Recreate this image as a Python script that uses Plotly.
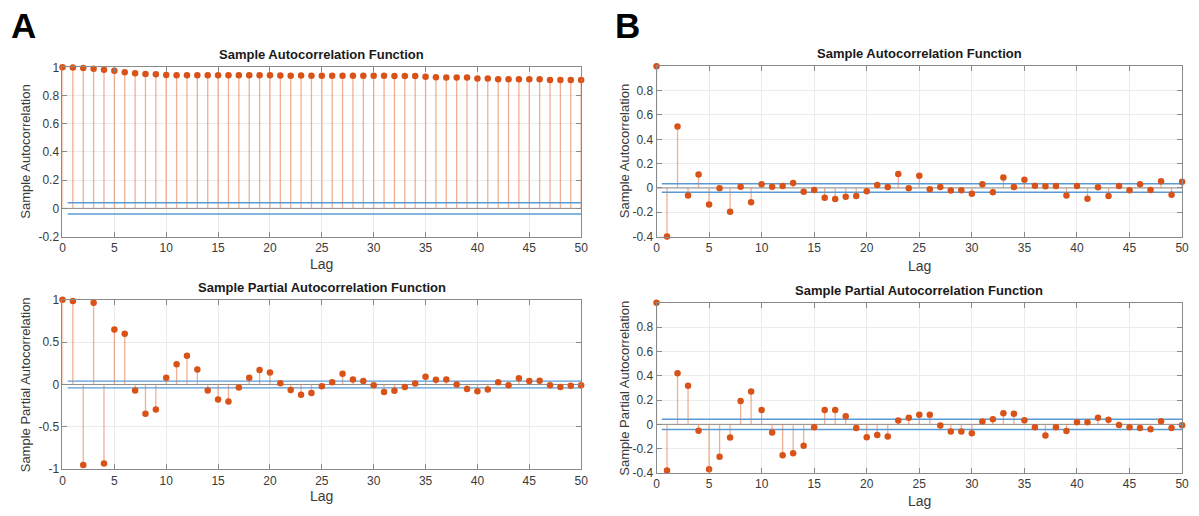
import plotly.graph_objects as go

lags = list(range(51))

acf_A = [1.0, 0.999, 0.995, 0.99, 0.982, 0.975, 0.965, 0.958, 0.953, 0.95,
         0.945, 0.944, 0.944, 0.943, 0.944, 0.944, 0.944, 0.944, 0.944, 0.944,
         0.944, 0.942, 0.941, 0.942, 0.94, 0.94, 0.94, 0.94, 0.94, 0.94,
         0.94, 0.94, 0.938, 0.938, 0.938, 0.933, 0.93, 0.927, 0.927, 0.927,
         0.92, 0.92, 0.916, 0.916, 0.916, 0.916, 0.916, 0.91, 0.91, 0.91, 0.91]

pacf_A = [1.0, 0.985, -0.95, 0.965, -0.935, 0.65, 0.6, -0.07, -0.346, -0.296,
          0.08, 0.24, 0.34, 0.177, -0.07, -0.177, -0.2, -0.035, 0.08, 0.17,
          0.14, 0.015, -0.065, -0.12, -0.1, -0.02, 0.025, 0.127, 0.06, 0.04,
          -0.01, -0.09, -0.075, -0.03, 0.01, 0.09, 0.055, 0.06, 0.0, -0.055,
          -0.08, -0.06, 0.027, -0.008, 0.073, 0.04, 0.045, -0.01, -0.03, -0.015, -0.01]

acf_B = [1.0, -0.4, 0.506, -0.062, 0.11, -0.137, -0.003, -0.195, 0.01, -0.118,
         0.03, 0.01, 0.016, 0.04, -0.032, -0.016, -0.08, -0.09, -0.072, -0.067,
         -0.027, 0.024, 0.008, 0.115, -0.003, 0.1, -0.01, 0.008, -0.02, -0.019,
         -0.048, 0.03, -0.035, 0.086, 0.008, 0.067, 0.019, 0.013, 0.016, -0.062,
         0.016, -0.088, 0.005, -0.067, 0.016, -0.019, 0.03, -0.016, 0.056, -0.056, 0.05]

pacf_B = [1.0, -0.38, 0.42, 0.318, -0.053, -0.37, -0.266, -0.108, 0.192, 0.271,
          0.118, -0.066, -0.253, -0.237, -0.176, -0.024, 0.118, 0.118, 0.066, -0.029,
          -0.105, -0.087, -0.1, 0.032, 0.055, 0.079, 0.079, -0.01, -0.058, -0.058,
          -0.074, 0.024, 0.042, 0.092, 0.087, 0.034, -0.024, -0.092, -0.024, -0.055,
          0.018, 0.018, 0.055, 0.037, -0.005, -0.024, -0.029, -0.04, 0.026, -0.029, -0.008]

bound_A_top = 0.04
bound_A_bot = 0.04
bound_B_top = 0.035
bound_B_bot = 0.042

titles = ["Sample Autocorrelation Function", "Sample Partial Autocorrelation Function"]
ylabels = ["Sample Autocorrelation", "Sample Partial Autocorrelation"]

W, H = 1199, 516

def px_x(p):
    return p / W

def px_y(p):
    return 1 - p / H

panels = [
    dict(d=acf_A, b=bound_A_top, x=(60, 583), y=(62, 236), yr=[-0.2, 1.0],
         tv=[-0.2, 0, 0.2, 0.4, 0.6, 0.8, 1.0], tt=["-0.2", "0", "0.2", "0.4", "0.6", "0.8", "1"],
         title=titles[0], ylab=ylabels[0], lagy=264, ylabx=23),
    dict(d=pacf_A, b=bound_A_bot, x=(60, 583), y=(301, 475), yr=[-1.0, 1.0],
         tv=[-1, -0.5, 0, 0.5, 1], tt=["-1", "-0.5", "0", "0.5", "1"],
         title=titles[1], ylab=ylabels[1], lagy=503, ylabx=23),
    dict(d=acf_B, b=bound_B_top, x=(659, 1189), y=(61, 236), yr=[-0.4, 1.0],
         tv=[-0.4, -0.2, 0, 0.2, 0.4, 0.6, 0.8], tt=["-0.4", "-0.2", "0", "0.2", "0.4", "0.6", "0.8"],
         title=titles[0], ylab=ylabels[0], lagy=266, ylabx=627),
    dict(d=pacf_B, b=bound_B_bot, x=(659, 1189), y=(304, 479), yr=[-0.4, 1.0],
         tv=[-0.4, -0.2, 0, 0.2, 0.4, 0.6, 0.8], tt=["-0.4", "-0.2", "0", "0.2", "0.4", "0.6", "0.8"],
         title=titles[1], ylab=ylabels[1], lagy=508, ylabx=627),
]

fig = go.Figure()
stem_color = "rgba(236,140,100,0.7)"
mark_color = "#D95319"
bound_color = "#5B9BD5"
axis_color = "#8a8a8a"
font_family = "Liberation Sans, Arial, sans-serif"

annotations = []
for i, p in enumerate(panels):
    n = i + 1
    xa = "x" if n == 1 else f"x{n}"
    ya = "y" if n == 1 else f"y{n}"
    sx, sy = [], []
    for k, v in zip(lags, p["d"]):
        sx += [k, k, None]
        sy += [0, v, None]
    fig.add_trace(go.Scatter(x=[0, 50], y=[0, 0], mode="lines",
                             line=dict(color="#8c8c8c", width=1),
                             xaxis=xa, yaxis=ya, showlegend=False, hoverinfo="skip"))
    fig.add_trace(go.Scatter(x=sx, y=sy, mode="lines",
                             line=dict(color=stem_color, width=1.3),
                             xaxis=xa, yaxis=ya, showlegend=False, hoverinfo="skip"))
    for bv in (p["b"], -p["b"]):
        fig.add_trace(go.Scatter(x=[0.5, 50], y=[bv, bv], mode="lines",
                                 line=dict(color=bound_color, width=1.4),
                                 xaxis=xa, yaxis=ya, showlegend=False, hoverinfo="skip"))
    fig.add_trace(go.Scatter(x=lags, y=p["d"], mode="markers",
                             marker=dict(color=mark_color, size=6.5),
                             cliponaxis=False,
                             xaxis=xa, yaxis=ya, showlegend=False))
    xd = [px_x(p["x"][0]), px_x(p["x"][1])]
    yd = [px_y(p["y"][1]), px_y(p["y"][0])]
    common = dict(showline=True, linecolor=axis_color, linewidth=1, mirror="ticks",
                  ticks="inside", ticklen=5, tickcolor=axis_color, showgrid=True,
                  gridcolor="#ebebeb", gridwidth=1, zeroline=False,
                  tickfont=dict(family=font_family, size=12, color="#3a3a3a"))
    fig.layout[("xaxis" if n == 1 else f"xaxis{n}")] = dict(
        domain=xd, range=[0, 50], tickvals=list(range(0, 51, 5)),
        anchor=ya, **common)
    fig.layout[("yaxis" if n == 1 else f"yaxis{n}")] = dict(
        domain=yd, range=p["yr"], tickvals=p["tv"], ticktext=p["tt"],
        anchor=xa, **common)
    cx = (p["x"][0] + p["x"][1]) / 2
    annotations.append(dict(text="<b>" + p["title"] + "</b>", x=px_x(cx), y=px_y(p["y"][0] - 3),
                            xref="paper", yref="paper", xanchor="center", yanchor="bottom",
                            showarrow=False, font=dict(family=font_family, size=13, color="#1a1a1a")))
    annotations.append(dict(text="Lag", x=px_x(cx), y=px_y(p["lagy"]),
                            xref="paper", yref="paper", xanchor="center", yanchor="middle",
                            showarrow=False, font=dict(family=font_family, size=14, color="#3a3a3a")))
    cy = (p["y"][0] + p["y"][1]) / 2
    annotations.append(dict(text=p["ylab"], x=px_x(p["ylabx"]), y=px_y(cy), textangle=-90,
                            xref="paper", yref="paper", xanchor="center", yanchor="middle",
                            showarrow=False, font=dict(family=font_family, size=13, color="#3a3a3a")))

annotations.append(dict(text="<b>A</b>", x=px_x(6), y=px_y(19), xref="paper", yref="paper",
                        xanchor="left", yanchor="middle", showarrow=False,
                        font=dict(family=font_family, size=35, color="black")))
annotations.append(dict(text="<b>B</b>", x=px_x(615), y=px_y(19), xref="paper", yref="paper",
                        xanchor="left", yanchor="middle", showarrow=False,
                        font=dict(family=font_family, size=35, color="black")))

fig.update_layout(width=W, height=H, margin=dict(l=0, r=0, t=0, b=0),
                  paper_bgcolor="white", plot_bgcolor="white",
                  annotations=annotations, showlegend=False)

fig.write_html("out.html")
